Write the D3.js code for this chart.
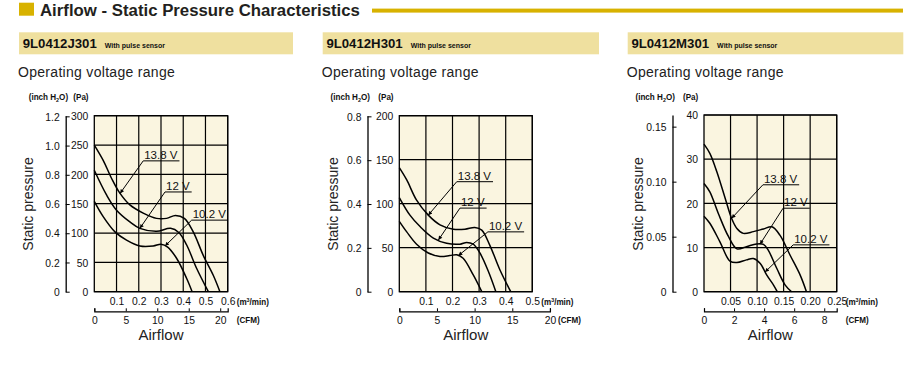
<!DOCTYPE html>
<html>
<head>
<meta charset="utf-8">
<script src="https://cdn.jsdelivr.net/npm/d3@7"></script>
<style>
body { margin: 0; background: #fff; }
svg { display: block; font-family: "Liberation Sans", Arial, sans-serif; }
</style>
</head>
<body>
<svg id="chart" width="924" height="375"></svg>
<script>
// model names and voltage labels
const models = ["9L0412J301", "9L0412H301", "9L0412M301"];
const voltages = ["13.8 V", "12 V", "10.2 V"];

// curves: [airflow m3/min, static pressure Pa]
const j301_138 = [[0,250],[0.04,224],[0.078,193],[0.115,168],[0.16,148],[0.22,134],[0.28,125],[0.325,125],[0.365,130],[0.405,125],[0.445,102],[0.49,62],[0.535,28],[0.565,0]];
const j301_120 = [[0,207],[0.055,165],[0.1,139],[0.16,119],[0.205,108],[0.28,103],[0.343,108],[0.38,101],[0.415,80],[0.46,40],[0.513,0]];
const j301_102 = [[0,154],[0.04,128],[0.093,102],[0.145,88],[0.205,78],[0.265,78],[0.3,81],[0.33,76],[0.37,57],[0.415,23],[0.44,0]];

const h301_138 = [[0,141],[0.028,127],[0.065,104],[0.109,87],[0.153,76],[0.203,71],[0.247,71],[0.284,73],[0.31,70],[0.34,53],[0.378,25],[0.419,0]];
const h301_120 = [[0,107],[0.04,87],[0.078,74],[0.128,61],[0.178,55],[0.228,54],[0.253,56],[0.278,54],[0.303,44],[0.335,23],[0.363,0]];
const h301_102 = [[0,80],[0.028,68],[0.065,54],[0.109,44],[0.153,40],[0.19,41],[0.216,42],[0.24,38],[0.278,19],[0.31,0]];

const m301_138 = [[0,33.4],[0.011,31.3],[0.024,27.2],[0.04,21.1],[0.052,16.6],[0.062,14.3],[0.074,13.2],[0.093,13.6],[0.112,14.2],[0.128,14.7],[0.143,12.8],[0.162,8.3],[0.181,3.8],[0.193,0]];
const m301_120 = [[0,24.5],[0.011,22.6],[0.027,17.7],[0.046,12.5],[0.062,9.7],[0.08,10.2],[0.099,10.8],[0.112,10.7],[0.121,9.4],[0.137,5.3],[0.153,1.5],[0.165,0]];
const m301_102 = [[0,17.1],[0.011,15.5],[0.03,11.3],[0.049,6.9],[0.062,6.6],[0.08,7.2],[0.093,7.5],[0.106,6.4],[0.118,3.8],[0.131,1.5],[0.138,0]];

// axis ticks
const paTicks = [[0,50,100,150,200,250,300], [0,50,100,150,200], [0,10,20,30,40]];
const inchTicks = [[0,0.2,0.4,0.6,0.8,1.0,1.2], [0,0.2,0.4,0.6,0.8], [0,0.05,0.10,0.15]];
const flowTicks = [[0.1,0.2,0.3,0.4,0.5,0.6], [0.1,0.2,0.3,0.4,0.5], [0.05,0.10,0.15,0.20,0.25]];
const cfmTicks = [[0,5,10,15,20], [0,5,10,15,20], [0,2,4,6,8]];

// where the voltage labels sit (airflow, pressure) and the airflow the arrow points at
const labelFlow = [[0.22,0.318,0.438], [0.216,0.228,0.333], [0.111,0.149,0.168]];
const labelPa = [[223,170,122], [125,95,68], [24.2,18.9,10.6]];
const arrowFlow = [[0.116,0.205,0.318], [0.109,0.147,0.222], [0.052,0.1055,0.115]];

const PA_PER_INCH = 249.089, CFM_PER_M3 = 35.315;
const NARROW = 0.9;

const charts = [
  {curves: [j301_138, j301_120, j301_102], left: 94.3, right: 227.7, top: 115.7, inchX: 65.7, fmt: ".1f", inchFmt: ".1f"},
  {curves: [h301_138, h301_120, h301_102], left: 399.3, right: 532.3, top: 115.7, inchX: 367.5, fmt: ".1f", inchFmt: ".1f"},
  {curves: [m301_138, m301_120, m301_102], left: 704, right: 836.7, top: 115, inchX: 672.5, fmt: ".2f", inchFmt: ".2f"}
];
const bottom = 291.7, cfmY = 311.3;
const barX = [19, 322.7, 627.7], barW = [274, 276.3, 275.6];

const svg = d3.select("#chart");

svg.append("defs").append("marker")
  .attr("id", "arrow").attr("viewBox", "0 0 10 10")
  .attr("refX", 10).attr("refY", 5)
  .attr("markerWidth", 6).attr("markerHeight", 4)
  .attr("markerUnits", "userSpaceOnUse")
  .attr("orient", "auto")
  .append("path").attr("d", "M0,0 L10,5 L0,10 z").attr("fill", "#000");

// squeeze tick labels horizontally, like the condensed face of the original
function narrowTicks(axisG) {
  axisG.attr("font-family", "Liberation Sans, Arial, sans-serif").attr("font-size", 11.5);
  axisG.selectAll(".tick text").each(function () {
    const t = d3.select(this);
    const x0 = +t.attr("x") || 0;
    t.attr("x", x0 / NARROW).attr("transform", `scale(${NARROW},1)`).attr("fill", "#111");
  });
}

// header
svg.append("rect").attr("x", 19).attr("y", 2.7).attr("width", 15).attr("height", 13).attr("fill", "#D8B200");
svg.append("text").attr("x", 40).attr("y", 15.5).attr("font-size", 16.8).attr("font-weight", "bold")
  .attr("fill", "#231f20").text("Airflow - Static Pressure Characteristics");
svg.append("rect").attr("x", 372).attr("y", 8.6).attr("width", 531).attr("height", 4).attr("fill", "#D8B200");

charts.forEach((c, i) => {
  const g = svg.append("g");
  const paMax = d3.max(paTicks[i]);
  const flowMax = d3.max(flowTicks[i]);

  // model bar
  g.append("rect").attr("x", barX[i]).attr("y", 32.3).attr("width", barW[i]).attr("height", 22)
    .attr("fill", "#EFE09F");
  const t = g.append("text").attr("x", barX[i] + 3.7).attr("y", 48).attr("fill", "#111");
  t.append("tspan").attr("font-size", 13.2).attr("font-weight", "bold").text(models[i]);
  t.append("tspan").attr("dx", 8).attr("font-size", 7).attr("font-weight", "bold").text("With pulse sensor");

  g.append("text").attr("x", barX[i] - 1).attr("y", 77).attr("font-size", 14).attr("letter-spacing", 0.3)
    .attr("fill", "#222").text("Operating voltage range");

  const x = d3.scaleLinear().domain([0, flowMax]).range([c.left, c.right]);
  const y = d3.scaleLinear().domain([0, paMax]).range([bottom, c.top]);
  const yIn = d3.scaleLinear().domain([0, paMax / PA_PER_INCH]).range([bottom, c.top]);
  const cfmEnd = Math.max(d3.max(cfmTicks[i]), flowMax * CFM_PER_M3);
  const xCfm = d3.scaleLinear().domain([0, flowMax * CFM_PER_M3]).range([c.left, c.right]);

  // plot background and grid
  g.append("rect").attr("x", c.left).attr("y", c.top).attr("width", c.right - c.left).attr("height", bottom - c.top)
    .attr("fill", "#FAF5E0");
  g.append("g").selectAll("line").data(flowTicks[i]).join("line")
    .attr("x1", d => x(d)).attr("x2", d => x(d)).attr("y1", c.top).attr("y2", bottom)
    .attr("stroke", "#000").attr("stroke-width", 1.2);
  g.append("g").selectAll("line").data(paTicks[i]).join("line")
    .attr("x1", c.left).attr("x2", c.right).attr("y1", d => y(d)).attr("y2", d => y(d))
    .attr("stroke", "#000").attr("stroke-width", 1.2);
  g.append("rect").attr("x", c.left).attr("y", c.top).attr("width", c.right - c.left).attr("height", bottom - c.top)
    .attr("fill", "none").attr("stroke", "#000").attr("stroke-width", 1.3);

  // Pa axis (labels only)
  const paAxis = g.append("g").attr("transform", `translate(${c.left},0)`)
    .call(d3.axisLeft(y).tickValues(paTicks[i]).tickSize(0).tickPadding(6));
  paAxis.select(".domain").remove();
  narrowTicks(paAxis);

  // inch H2O axis
  const inAxis = g.append("g").attr("transform", `translate(${c.inchX},0)`)
    .call(d3.axisLeft(yIn).tickValues(inchTicks[i]).tickSizeInner(-4).tickSizeOuter(0).tickPadding(6)
      .tickFormat(d => d === 0 ? "0" : d3.format(c.inchFmt)(d)));
  inAxis.select(".domain").attr("stroke-width", 1.3);
  narrowTicks(inAxis);

  // m3/min axis (labels only)
  const flAxis = g.append("g").attr("transform", `translate(0,${bottom})`)
    .call(d3.axisBottom(x).tickValues(flowTicks[i]).tickSize(0).tickPadding(5.5).tickFormat(d3.format(c.fmt)));
  flAxis.select(".domain").remove();
  narrowTicks(flAxis);

  // CFM axis
  const xCfmAxis = xCfm.copy().domain([0, cfmEnd]).range([c.left, xCfm(cfmEnd)]);
  const cfAxis = g.append("g").attr("transform", `translate(0,${cfmY})`)
    .call(d3.axisBottom(xCfmAxis).tickValues(cfmTicks[i]).tickSizeInner(-3).tickSizeOuter(-3).tickPadding(4.5));
  cfAxis.select(".domain").attr("stroke-width", 1.2);
  narrowTicks(cfAxis);

  // unit labels
  const unitY = 100.5;
  const small = sel => sel.attr("font-size", 9).attr("font-weight", "bold").attr("fill", "#111")
    .attr("transform", `scale(${NARROW},1)`);
  const u = g.append("text").attr("x", (c.inchX - 37) / NARROW).attr("y", unitY).call(small);
  u.append("tspan").text("(inch H");
  u.append("tspan").attr("font-size", 6).attr("dy", 1.5).text("2");
  u.append("tspan").attr("dy", -1.5).text("O)");
  g.append("text").attr("x", (c.left - 21) / NARROW).attr("y", unitY).call(small).text("(Pa)");

  const lastFlowX = x(flowMax) + 9;
  const m = g.append("text").attr("x", lastFlowX / NARROW).attr("y", 305.5).call(small);
  m.append("tspan").text("(m");
  m.append("tspan").attr("font-size", 6).attr("dy", -3).text("3");
  m.append("tspan").attr("dy", 3).text("/min)");
  const cfmLabelX = i === 1 ? xCfmAxis(20) + 8 : lastFlowX;
  g.append("text").attr("x", cfmLabelX / NARROW).attr("y", 323.5).call(small).text("(CFM)");

  // axis titles
  g.append("text").attr("x", (c.left + c.right) / 2).attr("y", 340).attr("text-anchor", "middle")
    .attr("font-size", 15).attr("fill", "#222").text("Airflow");
  g.append("text").attr("transform", `translate(${c.left - 61},204) rotate(-90)`).attr("text-anchor", "middle")
    .attr("font-size", 14).attr("fill", "#222").text("Static pressure");

  // curves
  const line = d3.line().x(d => x(d[0])).y(d => y(d[1])).curve(d3.curveCatmullRom.alpha(0.5));
  g.append("g").selectAll("path").data(c.curves).join("path")
    .attr("d", line).attr("fill", "none").attr("stroke", "#000").attr("stroke-width", 1.5);

  // voltage labels with leader arrows
  c.curves.forEach((curve, k) => {
    const lx = x(labelFlow[i][k]), ly = y(labelPa[i][k]);
    const txt = g.append("text").attr("x", lx + 1).attr("y", ly - 2).attr("font-size", 11.5)
      .attr("fill", "#111").text(voltages[k]);
    const w = txt.node().getComputedTextLength();
    g.append("line").attr("x1", lx).attr("x2", lx + w + 3).attr("y1", ly).attr("y2", ly)
      .attr("stroke", "#000").attr("stroke-width", 1);
    const fx = arrowFlow[i][k];
    const fy = d3.scaleLinear().domain(curve.map(d => d[0])).range(curve.map(d => d[1]))(fx);
    g.append("line").attr("x1", lx).attr("y1", ly).attr("x2", x(fx)).attr("y2", y(fy))
      .attr("stroke", "#000").attr("stroke-width", 1).attr("marker-end", "url(#arrow)");
  });
});
</script>
</body>
</html>
